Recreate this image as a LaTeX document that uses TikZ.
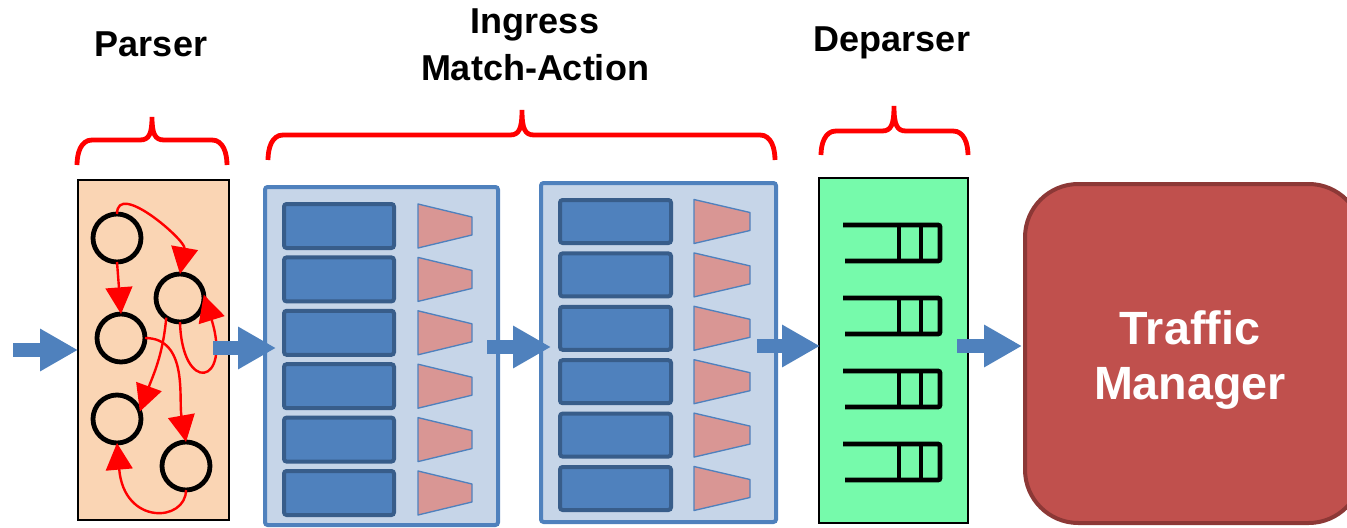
\documentclass[tikz,border=0pt]{standalone}
\usepackage{fontspec}
\setmainfont{Liberation Sans}
\usetikzlibrary{arrows.meta,fit}
\definecolor{stageblue}{HTML}{4F81BD}
\definecolor{stagefill}{HTML}{C6D5E8}
\definecolor{tbldark}{HTML}{385D8A}
\definecolor{trapfill}{HTML}{D99694}
\definecolor{parserfill}{HTML}{FAD5B4}
\definecolor{deparserfill}{HTML}{76FAAB}
\definecolor{tmfill}{HTML}{C0504D}
\definecolor{tmdark}{HTML}{8C3836}
\begin{document}
\begin{tikzpicture}[x=0.75pt,y=-0.75pt,
  parserbox/.style={draw=black, line width=0.9pt, fill=parserfill, inner sep=0pt, outer sep=0pt},
  deparserbox/.style={draw=black, line width=0.9pt, fill=deparserfill, inner sep=0pt, outer sep=0pt},
  stagebox/.style={draw=stageblue, line width=3pt, fill=stagefill, rounded corners=2pt, inner sep=0pt, outer sep=0pt},
  tbl/.style={draw=tbldark, line width=3pt, fill=stageblue, rounded corners=2pt, inner sep=0pt, outer sep=0pt},
  tmbox/.style={draw=tmdark, line width=3pt, fill=tmfill, rounded corners=40pt, inner sep=0pt, outer sep=0pt},
  trap/.style={draw=stageblue, line width=1pt, fill=trapfill, line join=round},
  state/.style={circle, draw=black, line width=3.6pt, minimum size=36pt, inner sep=0pt, outer sep=0pt},
  trans/.style={draw=red, line width=1.8pt, -{Triangle[length=20pt,width=20pt]}},
  flow/.style={draw=stageblue, line width=10.5pt, -{Triangle[length=28.5pt,width=30pt]}},
  queue/.style={draw=black, line width=3.6pt, rounded corners=1.5pt},
  brace/.style={draw=red, line width=3.6pt},
  lbl/.style={font=\bfseries\fontsize{27}{35}\selectfont, align=center, inner sep=0pt},
  tmtext/.style={text=white, font=\bfseries\fontsize{35}{41}\selectfont, align=center, inner sep=0pt}
]
\useasboundingbox (0,0) rectangle (1347,528);
\clip (0,0) rectangle (1347,528);

% labels
\node[lbl, anchor=base] (lparser) at (151,57) {Parser};
\node[lbl] (lingress) at (535,45) {Ingress\\Match-Action};
\node[lbl, anchor=base] (ldeparser) at (892,52) {Deparser};

% braces
\draw[brace] (77,165) to[out=90,in=180] (92,140) -- (140,140)
  .. controls (149,140) and (152,134) .. (152,117)
  .. controls (152,134) and (155,140) .. (164,140) -- (212,140) to[out=0,in=90] (227,165);
\draw[brace] (268,160) to[out=90,in=180] (283,135) -- (510,135)
  .. controls (519,135) and (522,129) .. (522,110)
  .. controls (522,129) and (525,135) .. (534,135) -- (760,135) to[out=0,in=90] (775,160);
\draw[brace] (821,155) to[out=90,in=180] (836,131) -- (882,131)
  .. controls (891,131) and (894,125) .. (894,106)
  .. controls (894,125) and (897,131) .. (906,131) -- (953,131) to[out=0,in=90] (968,155);

% main boxes
\node[parserbox, fit={(78,180) (229,520)}] (parser) {};
\node[stagebox, fit={(265,187) (498,525)}] (s1) {};
\node[stagebox, fit={(541,183) (776,522)}] (s2) {};
\node[deparserbox, fit={(819,178) (968,523)}] (deparser) {};
\node[tmbox, fit={(1025,184) (1362,523)}] (tm) {};
\node[tmtext] (tmlabel) at (1190,360) {Traffic\\Manager};

% match-action tables and action units
\foreach \i in {0,...,5} {
  \pgfmathsetmacro\ty{204+53.4*\i}
  \pgfmathsetmacro\tc{226+53.4*\i}
  \node[tbl, fit={(284,\ty) (394,\ty+44)}] (s1t\i) {};
  \draw[trap] (418,\tc-22) -- (472,\tc-9) -- (472,\tc+9) -- (418,\tc+22) -- cycle;
  \pgfmathsetmacro\uy{200+53.4*\i}
  \pgfmathsetmacro\uc{221.5+53.4*\i}
  \node[tbl, fit={(560,\uy) (671,\uy+43)}] (s2t\i) {};
  \draw[trap] (694,\uc-22) -- (750,\uc-9) -- (750,\uc+9) -- (694,\uc+22) -- cycle;
}

% deparser queues
\foreach \i in {0,...,3} {
  \pgfmathsetmacro\qy{225+73*\i}
  \draw[queue] (843,\qy) -- (940,\qy) -- (940,\qy+36) -- (845,\qy+36);
  \draw[queue] (899,\qy) -- (899,\qy+36) (921,\qy) -- (921,\qy+36);
}

% parser state machine
\node[state] (c1) at (117,238) {};
\node[state] (c2) at (180,298) {};
\node[state] (c3) at (121,338) {};
\node[state] (c4) at (117,419) {};
\node[state] (c5) at (186,466) {};
\draw[trans] (c1.north) to[out=90,in=80] (c2.north);
\draw[trans] (c1.south) -- (c3.north);
\draw[trans] (c2.235) to[out=-95,in=70] (c4.18);
\draw[trans] (c3.east) to[out=0,in=100] (c5.north);
\draw[trans] (c2.south) .. controls (182,395) and (232,385) .. (c2.8);
\draw[trans] (c5.south) .. controls (186,522) and (124,526) .. (c4.south);

% packet flow arrows
\coordinate (in0) at (13,350);
\coordinate (p1) at (213,348);
\coordinate (s1in) at (276,348);
\coordinate (s1out) at (487,347);
\coordinate (s2in) at (551,347);
\coordinate (s2out) at (757,346);
\coordinate (dpin) at (820,346);
\coordinate (dpout) at (957,346);
\coordinate (tmin) at (1022,346);
\draw[flow] (in0) -- (parser.west);
\draw[flow] (p1) -- (s1in);
\draw[flow] (s1out) -- (s2in);
\draw[flow] (s2out) -- (dpin);
\draw[flow] (dpout) -- (tmin);
\end{tikzpicture}
\end{document}
